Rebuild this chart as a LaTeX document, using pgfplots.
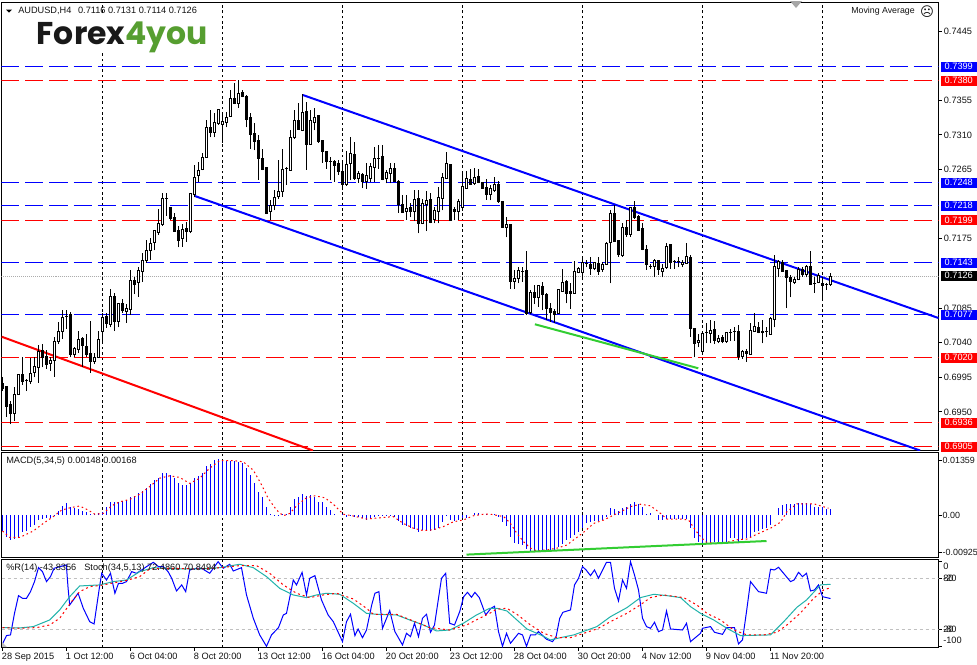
\documentclass[border=0pt]{standalone}
\usepackage{fontspec}
\usepackage{pgfplots}
\usepackage{pgfplotstable}
\pgfplotsset{compat=1.18}
\setmainfont{Liberation Sans}
\newfontfamily\logofont{Poppins}
\newfontfamily\symfont{DejaVu Sans}
\definecolor{logogreen}{RGB}{86,158,48}
\definecolor{txt}{RGB}{20,20,20}
\definecolor{teal2}{RGB}{32,178,170}
\definecolor{lime2}{RGB}{50,205,50}
\definecolor{lvl}{RGB}{192,192,192}
\tikzset{vgrid/.style={black,line width=0.75pt,dash pattern=on 2pt off 2pt}}
\pgfplotstableread{
i o h l c
0 0.6987 0.6996 0.6977 0.6980
1 0.6983 0.6983 0.6944 0.6957
2 0.6959 0.6964 0.6934 0.6948
3 0.6948 0.6983 0.6938 0.6973
4 0.6973 0.6998 0.6972 0.6998
5 0.6998 0.7022 0.6985 0.6990
6 0.6991 0.6993 0.6977 0.6991
7 0.6990 0.7020 0.6986 0.7000
8 0.7001 0.7021 0.6995 0.7009
9 0.7008 0.7037 0.6988 0.7028
10 0.7030 0.7038 0.7008 0.7021
11 0.7022 0.7031 0.7006 0.7012
12 0.7013 0.7022 0.7003 0.7017
13 0.7017 0.7048 0.6996 0.7042
14 0.7042 0.7067 0.7038 0.7054
15 0.7054 0.7083 0.7045 0.7073
16 0.7074 0.7082 0.7058 0.7074
17 0.7076 0.7080 0.7021 0.7025
18 0.7025 0.7035 0.7021 0.7032
19 0.7031 0.7055 0.7027 0.7044
20 0.7046 0.7047 0.7009 0.7036
21 0.7035 0.7051 0.7022 0.7025
22 0.7026 0.7068 0.7001 0.7015
23 0.7016 0.7027 0.7012 0.7021
24 0.7021 0.7055 0.7020 0.7044
25 0.7055 0.7078 0.7041 0.7073
26 0.7074 0.7079 0.7059 0.7065
27 0.7064 0.7110 0.7060 0.7100
28 0.7100 0.7105 0.7055 0.7068
29 0.7068 0.7091 0.7060 0.7091
30 0.7091 0.7097 0.7079 0.7082
31 0.7081 0.7090 0.7066 0.7084
32 0.7083 0.7134 0.7076 0.7121
33 0.7121 0.7126 0.7103 0.7116
34 0.7118 0.7138 0.7100 0.7134
35 0.7132 0.7157 0.7119 0.7147
36 0.7147 0.7174 0.7144 0.7160
37 0.7160 0.7176 0.7148 0.7169
38 0.7170 0.7187 0.7160 0.7186
39 0.7183 0.7214 0.7180 0.7195
40 0.7193 0.7235 0.7192 0.7227
41 0.7228 0.7234 0.7205 0.7228
42 0.7216 0.7217 0.7200 0.7201
43 0.7203 0.7208 0.7184 0.7185
44 0.7186 0.7192 0.7164 0.7173
45 0.7175 0.7194 0.7165 0.7187
46 0.7188 0.7197 0.7171 0.7185
47 0.7184 0.7235 0.7182 0.7234
48 0.7233 0.7271 0.7229 0.7255
49 0.7257 0.7275 0.7249 0.7264
50 0.7265 0.7286 0.7264 0.7281
51 0.7281 0.7329 0.7281 0.7320
52 0.7320 0.7343 0.7307 0.7313
53 0.7313 0.7338 0.7307 0.7326
54 0.7325 0.7343 0.7323 0.7343
55 0.7323 0.7336 0.7300 0.7328
56 0.7326 0.7340 0.7320 0.7333
57 0.7334 0.7368 0.7334 0.7358
58 0.7358 0.7377 0.7350 0.7351
59 0.7351 0.7381 0.7345 0.7364
60 0.7365 0.7368 0.7359 0.7360
61 0.7360 0.7362 0.7320 0.7330
62 0.7333 0.7338 0.7292 0.7310
63 0.7312 0.7325 0.7290 0.7302
64 0.7303 0.7310 0.7252 0.7280
65 0.7280 0.7292 0.7264 0.7265
66 0.7268 0.7268 0.7207 0.7208
67 0.7211 0.7225 0.7199 0.7218
68 0.7218 0.7238 0.7212 0.7229
69 0.7230 0.7278 0.7227 0.7237
70 0.7237 0.7292 0.7230 0.7265
71 0.7266 0.7268 0.7245 0.7266
72 0.7264 0.7316 0.7264 0.7307
73 0.7307 0.7342 0.7305 0.7329
74 0.7329 0.7352 0.7317 0.7317
75 0.7316 0.7363 0.7315 0.7339
76 0.7341 0.7353 0.7265 0.7297
77 0.7298 0.7342 0.7297 0.7329
78 0.7326 0.7345 0.7316 0.7333
79 0.7335 0.7336 0.7300 0.7301
80 0.7303 0.7303 0.7274 0.7289
81 0.7289 0.7289 0.7266 0.7276
82 0.7275 0.7282 0.7251 0.7275
83 0.7276 0.7277 0.7249 0.7270
84 0.7273 0.7278 0.7258 0.7263
85 0.7263 0.7274 0.7238 0.7245
86 0.7245 0.7289 0.7244 0.7271
87 0.7273 0.7307 0.7251 0.7286
88 0.7285 0.7301 0.7252 0.7254
89 0.7254 0.7263 0.7248 0.7260
90 0.7259 0.7261 0.7241 0.7250
91 0.7250 0.7273 0.7240 0.7257
92 0.7254 0.7273 0.7249 0.7269
93 0.7268 0.7294 0.7249 0.7279
94 0.7280 0.7297 0.7266 0.7280
95 0.7282 0.7297 0.7251 0.7252
96 0.7254 0.7264 0.7247 0.7261
97 0.7260 0.7273 0.7247 0.7267
98 0.7267 0.7274 0.7249 0.7250
99 0.7250 0.7251 0.7209 0.7220
100 0.7220 0.7232 0.7209 0.7209
101 0.7211 0.7232 0.7200 0.7215
102 0.7216 0.7222 0.7203 0.7211
103 0.7211 0.7238 0.7198 0.7226
104 0.7227 0.7238 0.7182 0.7195
105 0.7195 0.7227 0.7194 0.7221
106 0.7220 0.7237 0.7185 0.7225
107 0.7226 0.7234 0.7195 0.7196
108 0.7200 0.7216 0.7195 0.7212
109 0.7210 0.7242 0.7195 0.7229
110 0.7228 0.7260 0.7212 0.7255
111 0.7254 0.7288 0.7253 0.7273
112 0.7272 0.7272 0.7199 0.7199
113 0.7213 0.7216 0.7199 0.7210
114 0.7211 0.7227 0.7199 0.7223
115 0.7216 0.7263 0.7213 0.7243
116 0.7241 0.7263 0.7240 0.7253
117 0.7252 0.7266 0.7245 0.7246
118 0.7247 0.7267 0.7245 0.7255
119 0.7256 0.7266 0.7247 0.7248
120 0.7248 0.7249 0.7240 0.7241
121 0.7242 0.7253 0.7226 0.7232
122 0.7233 0.7245 0.7225 0.7240
123 0.7238 0.7256 0.7236 0.7246
124 0.7245 0.7250 0.7222 0.7223
125 0.7223 0.7224 0.7190 0.7190
126 0.7190 0.7204 0.7177 0.7193
127 0.7194 0.7194 0.7110 0.7119
128 0.7120 0.7134 0.7110 0.7123
129 0.7123 0.7138 0.7117 0.7134
130 0.7133 0.7138 0.7119 0.7133
131 0.7134 0.7159 0.7076 0.7078
132 0.7079 0.7108 0.7077 0.7105
133 0.7105 0.7115 0.7090 0.7099
134 0.7099 0.7115 0.7087 0.7114
135 0.7113 0.7119 0.7082 0.7102
136 0.7102 0.7104 0.7069 0.7085
137 0.7084 0.7091 0.7067 0.7079
138 0.7080 0.7084 0.7066 0.7077
139 0.7078 0.7110 0.7077 0.7109
140 0.7107 0.7136 0.7106 0.7118
141 0.7120 0.7122 0.7091 0.7104
142 0.7106 0.7117 0.7084 0.7104
143 0.7104 0.7146 0.7104 0.7132
144 0.7131 0.7138 0.7130 0.7136
145 0.7131 0.7149 0.7121 0.7144
146 0.7143 0.7148 0.7138 0.7143
147 0.7142 0.7151 0.7128 0.7136
148 0.7136 0.7145 0.7134 0.7144
149 0.7143 0.7151 0.7128 0.7132
150 0.7135 0.7145 0.7132 0.7141
151 0.7142 0.7171 0.7142 0.7169
152 0.7170 0.7212 0.7117 0.7208
153 0.7208 0.7219 0.7171 0.7172
154 0.7173 0.7174 0.7152 0.7154
155 0.7153 0.7195 0.7152 0.7190
156 0.7190 0.7199 0.7178 0.7180
157 0.7180 0.7216 0.7178 0.7216
158 0.7216 0.7224 0.7201 0.7203
159 0.7204 0.7206 0.7185 0.7186
160 0.7188 0.7195 0.7160 0.7161
161 0.7161 0.7167 0.7135 0.7141
162 0.7139 0.7142 0.7136 0.7139
163 0.7139 0.7149 0.7125 0.7147
164 0.7147 0.7147 0.7128 0.7135
165 0.7133 0.7142 0.7125 0.7136
166 0.7138 0.7169 0.7136 0.7165
167 0.7167 0.7167 0.7136 0.7144
168 0.7145 0.7147 0.7136 0.7145
169 0.7145 0.7152 0.7138 0.7145
170 0.7141 0.7147 0.7138 0.7144
171 0.7143 0.7169 0.7142 0.7152
172 0.7151 0.7154 0.7048 0.7059
173 0.7059 0.7059 0.7021 0.7039
174 0.7040 0.7051 0.7034 0.7043
175 0.7029 0.7054 0.7028 0.7052
176 0.7053 0.7065 0.7039 0.7053
177 0.7052 0.7069 0.7039 0.7056
178 0.7057 0.7068 0.7038 0.7043
179 0.7042 0.7050 0.7039 0.7045
180 0.7047 0.7050 0.7039 0.7042
181 0.7041 0.7054 0.7040 0.7053
182 0.7053 0.7058 0.7042 0.7053
183 0.7055 0.7060 0.7042 0.7055
184 0.7055 0.7063 0.7018 0.7022
185 0.7022 0.7030 0.7019 0.7028
186 0.7029 0.7032 0.7015 0.7026
187 0.7025 0.7066 0.7025 0.7056
188 0.7055 0.7078 0.7054 0.7061
189 0.7060 0.7067 0.7052 0.7053
190 0.7055 0.7069 0.7039 0.7053
191 0.7055 0.7060 0.7047 0.7055
192 0.7051 0.7073 0.7051 0.7072
193 0.7070 0.7154 0.7060 0.7139
194 0.7137 0.7147 0.7125 0.7145
195 0.7144 0.7147 0.7132 0.7133
196 0.7134 0.7135 0.7085 0.7125
197 0.7125 0.7128 0.7099 0.7119
198 0.7118 0.7125 0.7116 0.7122
199 0.7122 0.7138 0.7121 0.7135
200 0.7135 0.7138 0.7126 0.7128
201 0.7128 0.7141 0.7125 0.7139
202 0.7139 0.7159 0.7115 0.7116
203 0.7117 0.7125 0.7105 0.7117
204 0.7118 0.7130 0.7117 0.7127
205 0.7117 0.7125 0.7097 0.7114
206 0.7116 0.7118 0.7109 0.7116
207 0.7116 0.7131 0.7114 0.7126
}\candles
\pgfplotstableread{
i v
0 -0.00400
1 -0.00541
2 -0.00625
3 -0.00600
4 -0.00558
5 -0.00433
6 -0.00400
7 -0.00292
8 -0.00250
9 -0.00125
10 -0.00100
11 -0.00083
12 -0.00067
13 -0.00017
14 0.00100
15 0.00225
16 0.00292
17 0.00208
18 0.00167
19 0.00142
20 0.00108
21 0.00083
22 0.00017
23 0.00017
24 0.00042
25 0.00083
26 0.00208
27 0.00317
28 0.00317
29 0.00317
30 0.00350
31 0.00375
32 0.00458
33 0.00483
34 0.00558
35 0.00600
36 0.00666
37 0.00766
38 0.00883
39 0.00916
40 0.01041
41 0.01041
42 0.01000
43 0.00916
44 0.00791
45 0.00750
46 0.00750
47 0.00791
48 0.00916
49 0.00983
50 0.01041
51 0.01233
52 0.01266
53 0.01374
54 0.01399
55 0.01349
56 0.01349
57 0.01349
58 0.01349
59 0.01333
60 0.01291
61 0.01166
62 0.01000
63 0.00791
64 0.00583
65 0.00458
66 0.00192
67 0.00025
68 0.00008
69 0.00008
70 0.00025
71 0.00025
72 0.00208
73 0.00392
74 0.00458
75 0.00525
76 0.00475
77 0.00500
78 0.00458
79 0.00333
80 0.00333
81 0.00208
82 0.00125
83 0.00017
84 0.00000
85 0.00017
86 -0.00042
87 -0.00017
88 -0.00042
89 -0.00042
90 -0.00083
91 -0.00125
92 -0.00067
93 -0.00042
94 -0.00025
95 -0.00033
96 -0.00033
97 -0.00033
98 -0.00050
99 -0.00150
100 -0.00250
101 -0.00275
102 -0.00333
103 -0.00350
104 -0.00433
105 -0.00375
106 -0.00375
107 -0.00392
108 -0.00375
109 -0.00333
110 -0.00167
111 -0.00017
112 -0.00125
113 -0.00142
114 -0.00125
115 -0.00083
116 -0.00067
117 0.00000
118 0.00042
119 0.00042
120 0.00017
121 0.00025
122 0.00000
123 0.00017
124 -0.00042
125 -0.00183
126 -0.00267
127 -0.00541
128 -0.00708
129 -0.00725
130 -0.00750
131 -0.00850
132 -0.00900
133 -0.00900
134 -0.00916
135 -0.00875
136 -0.00916
137 -0.00875
138 -0.00900
139 -0.00791
140 -0.00733
141 -0.00625
142 -0.00583
143 -0.00500
144 -0.00433
145 -0.00317
146 -0.00208
147 -0.00183
148 -0.00150
149 -0.00150
150 -0.00133
151 -0.00042
152 0.00167
153 0.00150
154 0.00100
155 0.00183
156 0.00208
157 0.00267
158 0.00317
159 0.00275
160 0.00208
161 0.00025
162 0.00042
163 0.00000
164 -0.00125
165 -0.00125
166 -0.00100
167 -0.00100
168 -0.00100
169 -0.00100
170 -0.00100
171 -0.00100
172 -0.00333
173 -0.00566
174 -0.00666
175 -0.00691
176 -0.00691
177 -0.00683
178 -0.00683
179 -0.00683
180 -0.00683
181 -0.00666
182 -0.00583
183 -0.00583
184 -0.00666
185 -0.00600
186 -0.00566
187 -0.00541
188 -0.00433
189 -0.00400
190 -0.00350
191 -0.00333
192 -0.00250
193 0.00000
194 0.00183
195 0.00250
196 0.00267
197 0.00267
198 0.00267
199 0.00308
200 0.00308
201 0.00308
202 0.00283
203 0.00208
204 0.00208
205 0.00208
206 0.00142
207 0.00148
}\macdhist
\pgfplotstableread{
i v
0 -0.0040
1.8 -0.0056
4.3 -0.0056
7.7 -0.0040
10.2 -0.0021
12.7 -0.0004
14.8 0.00125
17.3 0.0019
19.3 0.00225
21.4 0.00125
23.1 0.0002
25.2 0.0004
27.3 0.0023
29.3 0.0033
31.8 0.0039
34.3 0.0052
36.8 0.0071
39.3 0.0092
41.8 0.0098
44.3 0.0094
46.8 0.0079
49.3 0.0092
51.8 0.0117
54.3 0.0136
57.7 0.0136
60.2 0.0133
62.7 0.0112
64.8 0.0075
66.4 0.0042
68.5 0.00125
70.2 -0.0002
71.8 0.0004
73.9 0.0027
76 0.0043
78.1 0.0048
80.6 0.0043
82.7 0.0027
85.2 0.0002
87.7 -0.00025
91 -0.0010
94.3 -0.0007
97.7 -0.0004
100.2 -0.0021
102.7 -0.0033
105.2 -0.0039
107.7 -0.0037
110.2 -0.0029
112.7 -0.0017
115.2 -0.00125
117.7 -0.0002
120.2 0.0002
122 0.0002
125.3 -0.0004
127 -0.0021
128.6 -0.0046
130.3 -0.0067
132 -0.0083
133.6 -0.0090
136.1 -0.0087
138.6 -0.0083
141.1 -0.0075
142.8 -0.0062
145.3 -0.0043
147.8 -0.0021
150.3 -0.00125
152.4 -0.0002
154.5 0.0008
157 0.0021
159.5 0.0027
162 0.0023
164.5 0.0004
166.1 -0.0010
169.5 -0.0010
171.5 -0.00125
173.6 -0.0043
175.7 -0.0067
178.6 -0.0072
181.1 -0.0068
183.6 -0.0062
186.1 -0.0060
188.6 -0.0048
192 -0.0033
194.5 -0.0018
196.1 0.0008
198.6 0.0028
202.8 0.0028
206.5 0.0017
}\macdsig
\pgfplotstableread{
i r
0 -97.2
1 -87.4
2 -86.6
3 -61.2
4 -40.4
5 -43.5
6 -43.5
7 -35.7
8 -23.9
9 -7.5
10 -12.2
11 -23.9
12 -18
12.9 -8.2
15.96 -4.3
16.4 -31.8
16.8 -51.4
18.9 -37.6
20.2 -55.3
21.8 -71
22.9 -73.7
24.2 -31.8
24.8 -14.1
26 -22
27 -14.1
28.1 -37.6
29 -25.9
30 -25.9
31 -23.9
32.3 -12.2
33.5 -14.1
34.8 -10.2
36 -6.3
37.7 -1.2
39 -6.3
40.2 -6.3
41.4 -12.2
42.3 -20
43.5 -34.9
44.8 -27.8
45.8 -35.7
46.8 -10.2
48.5 -8.2
49.75 -8.2
51.8 -14.1
53.9 -0.5
55.2 -8.2
56.8 -3.5
57.7 -11.4
59.75 -7.5
61 -39.6
62.7 -67
64.3 -86.6
66 -100
67.25 -86.6
69 -78
70.2 -63.1
71 -61.2
72.7 -22
73.5 -27.8
74.9 -13
76 -39.6
76.8 -20
78.1 -16.9
79.75 -45.5
81.4 -63.1
82.7 -71
85 -94.5
86 -71
87 -62.3
88.1 -87.4
88.9 -79.6
90 -89.8
91 -80.8
92.3 -51.4
93.1 -37.6
94.1 -35.7
95 -78.8
96.8 -58
98.1 -82.7
100 -98.4
101 -84.7
102 -88.6
103 -72.9
104 -88.6
105 -67
106 -62.3
107 -83.5
108 -74.9
109.75 -20
110.8 -14.1
111.8 -72.9
113 -74.9
114.3 -59.2
115.3 -41.6
116.25 -36.5
117.25 -42.3
118.1 -36.5
119.2 -42.7
120.8 -63.1
122.1 -55.3
123 -52.9
124 -82.7
125 -100
126 -84.7
127 -96.4
129 -84.7
130 -86.6
131 -100
132 -86.6
133.2 -86.6
134 -82.7
136 -91.7
137.5 -94.5
138.4 -88.6
139.3 -67
140.1 -60
142 -57.2
143 -27.8
144 -20
145 -6.3
145.9 -10.2
147 -16.9
148 -10.2
149 -20
151 -1.2
152 -1.2
153 -31.8
154 -46.7
155 -22
156 -31.8
157 -0.4
158 -16.1
159 -33.7
160 -67
161 -76.8
162 -78.8
163 -71.7
164 -82.7
165 -80.8
166 -58.4
167 -79.6
170 -80.8
171 -72.9
172 -94.5
174.5 -84.7
175 -78.8
177 -76.8
178 -83.5
180 -85.9
181 -78
183 -78
184 -97.2
185 -92.5
186 -59.2
187 -23.9
189 -35.7
191 -37.6
192 -9.4
193 -10.2
194 -7
197 -23.9
197.9 -22
199 -13
200 -18
201 -14.1
202 -34.9
203 -33.7
204 -27.8
205 -41.6
207 -43.8
}\wpr
\pgfplotstableread{
i s
0 22
4.3 21.6
7.7 23.2
11.8 31
14.3 42.8
16.8 58.4
19.3 71
24.3 72.2
27.7 76.1
31 78
34.3 87.8
37.7 92.5
43.5 91
49.3 91
54.3 92.5
59.3 96.5
62.7 92.5
66 82
69.3 68.2
72.7 60.4
76 57.3
78.5 60.4
81 62.4
84.3 61.2
87.7 50.6
91 38.8
93.5 37.7
98.5 36.9
101.8 31
105.2 25.1
108.5 18.1
111.8 19.2
115.2 27.1
118.5 36.9
121.8 44.7
123.6 44.7
126.1 41.6
128.6 31
131.1 20.4
134.5 13.4
137 7.5
139.5 10.2
142.8 13.4
148.6 23.2
152 34.9
156.1 45.5
159.5 57.3
162.8 61.2
166.1 59.6
169.5 57.3
172 46.7
174.5 38.8
177.8 31
181.1 21.2
184.5 12.6
192 13.4
195.3 29
198.6 45.9
201 54.5
204.5 72.2
207 73
}\stochmain
\pgfplotstableread{
i s
0 22
4.3 21.2
8.5 22
11.8 25.1
14.3 33
17.25 52.6
19.3 64.3
21.8 70.2
24.3 71.4
28.5 75.3
31.4 78
34.3 82
36.8 91
41 91.8
49.3 91
54.3 92.5
59.3 94.9
63.5 94.9
66.8 85.9
70.2 72.2
73.5 62.4
76.8 57.3
80.2 60.4
83.5 62.4
87.7 55.7
91 44.7
92.7 37.7
98.5 37.7
102.7 29.8
106.8 22
111.8 19.2
116 25.1
119.3 33
121.8 38.8
123.6 43.9
126.1 44.7
128.6 37.7
132 25.1
135.3 15.3
138.6 10.2
142 10.2
145.3 15.3
148.6 20.4
152.8 31
156.1 38.8
159.4 48.6
162 57.3
165.3 60.4
170.3 57.3
173.6 48.6
176.1 38.8
179.5 31
182.8 19.2
186.1 13.4
190.3 13.4
193.6 16.5
196.1 25.1
199.4 38.8
202.8 56.5
205.3 66.3
207 69
}\stochsig
\pgfplotsset{
  panel/.style={
    scale only axis, anchor=north west, width=702.75pt,
    xmin=-0.25, xmax=234,
    axis line style={black,line width=0.85pt},
    tick style={black,line width=0.75pt},
    major tick length=2.6pt,
    tick align=outside,
    xtick pos=bottom, ytick pos=right, yticklabel pos=right,
    tick label style={font=\fontsize{6.9}{8}\selectfont,text=txt},
    y tick label style={anchor=west,xshift=0.2pt,inner sep=1pt},
    /pgf/number format/assume math mode=true,
    clip mode=individual,
  },
  gridonly/.style={
    xtick={25,55,...,205}, xticklabel=\empty, xmajorgrids=true,
    major x grid style={vgrid}, x tick style={draw=none},
  },
  hd/.style={line width=0.75pt,forget plot,dash pattern=on 13.5pt off 4.5pt},
}
\begin{document}
\begin{tikzpicture}
\path[use as bounding box,fill=white] (0,0) rectangle (732.75pt,-498pt);
% ---------- price panel ----------
\begin{axis}[panel, gridonly, name=main, at={(1.125pt,-1.875pt)}, height=336pt,
  ymin=0.68998, ymax=0.74822,
  ytick={0.6950,0.6995,0.7040,0.7085,0.7175,0.7265,0.7310,0.7355,0.7445},
  scaled y ticks=false,
  yticklabel style={/pgf/number format/.cd,fixed,fixed zerofill,precision=4},
]
\addplot[blue,hd] coordinates {(-0.25,0.7399)(234,0.7399)};
\addplot[red,hd] coordinates {(-0.25,0.73808)(234,0.73808)};
\addplot[blue,hd] coordinates {(-0.25,0.72488)(234,0.72488)};
\addplot[blue,hd] coordinates {(-0.25,0.72185)(234,0.72185)};
\addplot[red,hd] coordinates {(-0.25,0.71988)(234,0.71988)};
\addplot[blue,hd] coordinates {(-0.25,0.71442)(234,0.71442)};
\addplot[blue,hd] coordinates {(-0.25,0.70766)(234,0.70766)};
\addplot[red,hd] coordinates {(-0.25,0.70207)(234,0.70207)};
\addplot[red,hd] coordinates {(-0.25,0.69362)(234,0.69362)};
\addplot[red,hd] coordinates {(-0.25,0.6905)(234,0.6905)};
\addplot[gray!65,line width=0.75pt,dash pattern=on 0.75pt off 0.75pt,forget plot] coordinates {(-0.25,0.7126)(234,0.7126)};
\addplot[blue,line width=1.5pt,forget plot] coordinates {(75.05,0.7362)(234,0.7072)};
\addplot[blue,line width=1.5pt,forget plot] coordinates {(48.1,0.72306)(229.4,0.68998)};
\addplot[red,line width=1.5pt,forget plot] coordinates {(-0.2,0.70477)(77.6,0.68998)};
\addplot[lime2,line width=1.5pt,forget plot] coordinates {(133.1,0.70639)(173.95,0.70067)};
% wicks
\addplot[draw=none,mark=none,forget plot,error bars/.cd,y dir=plus,y explicit,error mark=none,error bar style={black,line width=0.75pt}]
  table[x=i,y=l,y error plus expr=\thisrow{h}-\thisrow{l}] {\candles};
% bodies
\addplot[draw=none,mark=none,forget plot,error bars/.cd,y dir=plus,y explicit,error mark=none,error bar style={black,line width=2.25pt}]
  table[x=i,y expr={min(\thisrow{o},\thisrow{c})},y error plus expr=abs(\thisrow{c}-\thisrow{o})] {\candles};
\addplot[draw=none,mark=none,forget plot,error bars/.cd,y dir=plus,y explicit,error mark=none,error bar style={white,line width=0.75pt}]
  table[x=i,y expr={\thisrow{c}>\thisrow{o} ? \thisrow{o} : nan},y error plus expr=\thisrow{c}-\thisrow{o}] {\candles};
\addplot[only marks,mark=-,mark size=1.125pt,mark options={black,line width=0.75pt},forget plot] table[x=i,y=o] {\candles};
\addplot[only marks,mark=-,mark size=1.125pt,mark options={black,line width=0.75pt},forget plot] table[x=i,y=c] {\candles};
\end{axis}
% ---------- MACD panel ----------
\begin{axis}[panel, gridonly, name=macd, at={(1.125pt,-339.375pt)}, height=78.75pt,
  ymin=-0.010625, ymax=0.015625,
  scaled y ticks=false,
  ytick={-0.00925,0,0.01359},
  yticklabels={-0.00925,0.00,0.01359},
  y tick label style={xshift=-0.9pt,font=\fontsize{6.7}{8}\selectfont},
]
\addplot[ycomb,blue,line width=0.75pt,mark=none,forget plot] table[x=i,y=v] {\macdhist};
\addplot[red,line width=0.75pt,dash pattern=on 1.2pt off 2.2pt,forget plot] table[x=i,y=v] {\macdsig};
\addplot[lime2,line width=1.5pt,forget plot] coordinates {(116,-0.0099)(191,-0.0065)};
\end{axis}
% ---------- %R and Stochastic panel ----------
\begin{axis}[panel, name=osc, at={(1.125pt,-419.625pt)}, height=66pt,
  ymin=-1.4, ymax=102.1,
  minor xtick={25,55,...,205},
  minor tick length=0pt,
  xminorgrids=true,
  minor grid style={vgrid},
  xtick={0,16,32,48,64,80,96,112,128,144,160,176,192},
  xticklabels={28 Sep 2015,1 Oct 12:00,6 Oct 04:00,8 Oct 20:00,13 Oct 12:00,16 Oct 04:00,20 Oct 20:00,23 Oct 12:00,28 Oct 04:00,30 Oct 20:00,4 Nov 12:00,9 Nov 04:00,11 Nov 20:00},
  x tick label style={anchor=north west,xshift=-1.6pt,yshift=-0.2pt,inner xsep=1pt,inner ysep=1.5pt},
  ytick={0,20,80,100},
  yticklabels={,,,},
]
\addplot[lvl,line width=0.75pt,dash pattern=on 2.25pt off 2.25pt,forget plot] coordinates {(-0.25,80)(234,80)};
\addplot[lvl,line width=0.75pt,dash pattern=on 2.25pt off 2.25pt,forget plot] coordinates {(-0.25,20)(234,20)};
\addplot[blue,line width=0.75pt,forget plot] table[x=i,y expr=\thisrow{r}+100] {\wpr};
\addplot[teal2,line width=0.75pt,forget plot] table[x=i,y=s] {\stochmain};
\addplot[red,line width=0.75pt,dash pattern=on 1.5pt off 2.25pt,forget plot] table[x=i,y=s] {\stochsig};
\end{axis}
% ---------- overlaid labels (px coordinates) ----------
\begin{scope}[x=0.75pt,y=-0.75pt,
  lb/.style={font=\fontsize{6.9}{8}\selectfont,text=txt,inner sep=0pt,anchor=west},
  tg/.style={font=\fontsize{6.9}{8}\selectfont,text=white,inner sep=0pt,minimum width=27pt,minimum height=7.5pt,anchor=west}]
\node[fill=white,inner sep=0pt,minimum width=132pt,minimum height=27pt,anchor=west] at (33,33) {};
\node[anchor=base west,inner sep=0pt,font=\logofont\bfseries\fontsize{23.6}{24}\selectfont] at (36.5,44.5) {\textcolor{black!90}{Forex}\textcolor{logogreen}{4you}};
\fill[black] (6,9.5)--(12,9.5)--(9,12.5)--cycle;
\node[lb] at (18,10.5) {AUDUSD,H4\hspace{5pt}0.7116 0.7131 0.7114 0.7126};
\node[lb,anchor=east,font=\fontsize{6.6}{8}\selectfont] at (915,11.5) {Moving Average};
\node[inner sep=0pt,text=txt,font=\symfont\fontsize{10}{10}\selectfont] at (927,11.5) {☹};
\fill[gray!70] (790,1)--(802,1)--(796,8)--cycle;
\node[lb] at (6,461.5) {MACD(5,34,5) 0.00148 0.00168};
\node[lb] at (6,568.5) {\%R(14) -43.8356\hspace{6pt}Stoch(34,5,13) 72.4860 70.8494};
\fill[gray!50] (2,642)--(2,647)--(7,647)--cycle;
\foreach \yy/\cc/\tt in {66.5/blue/0.7399,80.5/red/0.7380,182.5/blue/0.7248,205.5/blue/0.7218,220/red/0.7199,262.5/blue/0.7143,275.5/black/0.7126,314.5/blue/0.7077,357.5/red/0.7020,422.5/red/0.6936,446.5/red/0.6905}{
  \node[tg,fill=\cc] at (940.5,\yy) {\tt};
}
\node[lb] at (943,566.5) {0};
\node[lb] at (943,578) {80};
\node[lb] at (943,578) {-20};
\node[lb] at (943,629) {20};
\node[lb] at (943,629) {-80};
\node[lb] at (943,640.5) {-100};
\end{scope}
\end{tikzpicture}
\end{document}
